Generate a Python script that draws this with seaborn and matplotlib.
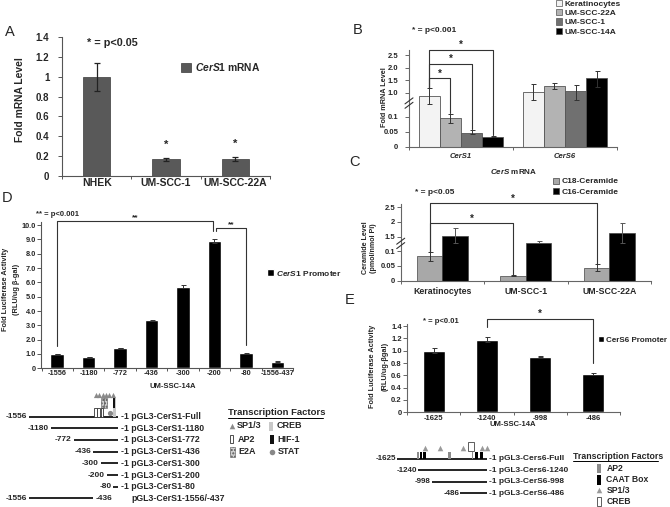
import numpy as np
import pandas as pd
import matplotlib
matplotlib.use('Agg')
import matplotlib.pyplot as plt
import seaborn as sns
from matplotlib.patches import Patch, Rectangle

# ---------------- data ----------------
A_cells = ['NHEK', 'UM-SCC-1', 'UM-SCC-22A']
A_mrna = [1.0, 0.17, 0.17]
A_err = [0.14, 0.015, 0.02]

B_genes = ['CerS1', 'CerS6']
B_cells = ['Keratinocytes', 'UM-SCC-22A', 'UM-SCC-1', 'UM-SCC-14A']
B_cers1 = [0.84, 0.096, 0.048, 0.034]
B_cers6 = [1.02, 1.27, 1.08, 1.57]
B_cers1_lo = [0.38, 0.015, 0.006, 0.002]
B_cers1_hi = [0.33, 0.014, 0.010, 0.002]
B_cers6_lo = [0.37, 0.13, 0.42, 0.33]
B_cers6_hi = [0.31, 0.10, 0.23, 0.31]

C_cells = ['Keratinocytes', 'UM-SCC-1', 'UM-SCC-22A']
C_species = ['C18-Ceramide', 'C16-Ceramide']
C_c18 = [0.083, 0.017, 0.044]
C_c18_err = [0.015, 0.002, 0.013]
C_c16 = [1.52, 1.28, 1.64]
C_c16_err = [0.28, 0.06, 0.34]

D_constructs = ['-1556', '-1180', '-772', '-436', '-300', '-200', '-80', '-1556-437']
D_activity = [1.0, 0.8, 1.45, 3.35, 5.7, 8.9, 1.05, 0.45]
D_err = [0.0, 0.0, 0.0, 0.05, 0.12, 0.15, 0.04, 0.03]

E_constructs = ['-1625', '-1240', '-998', '-486']
E_activity = [1.0, 1.18, 0.9, 0.62]
E_err = [0.04, 0.045, 0.01, 0.02]

# promoter maps (bp)
D_starts = [-1556, -1180, -772, -436, -300, -200, -80]
D_names = ['Full', '1180', '772', '436', '300', '200', '80']
D_del = [-1556, -436]
D_del_name = 'pGL3-CerS1-1556/-437'
D_sp1 = [-386, -328, -268, -211, -153, -93]
D_ap2 = [(-421, -374), (-363, -316), (-304, -258)]
D_e2a = [(-290, -246), (-237, -193)]
D_creb = [(-96, -35)]
D_hif = [(-79, -44)]
D_stat = [-132]

E_starts = [-1625, -1240, -998, -486]
E_names = ['pGL3-Cers6-Full', 'pGL3-Cers6-1240', 'pGL3-CerS6-998', 'pGL3-CerS6-486']
E_ap2 = [(-1267, -1225), (-697, -654), (-276, -247)]
E_caat = [(-1216, -1171), (-1153, -1105), (-216, -171), (-126, -81)]
E_sp1 = [-1117, -847, -427, -95, 5]
E_creb = [(-337, -234)]

# ---------------- style ----------------
sns.set_theme(style='white')
plt.rcParams['font.family'] = ['Liberation Sans', 'DejaVu Sans']
plt.rcParams['font.weight'] = 'bold'
plt.rcParams['mathtext.fontset'] = 'custom'
plt.rcParams['mathtext.it'] = 'Liberation Sans:italic:bold'
plt.rcParams['mathtext.rm'] = 'Liberation Sans:bold'
plt.rcParams['mathtext.bf'] = 'Liberation Sans:bold'

W, H = 670, 507
fig = plt.figure(figsize=(W / 100, H / 100), dpi=100)
fig.patch.set_facecolor('white')


def px_axes(x0, y0, x1, y1, **kw):
    return fig.add_axes([x0 / W, 1 - y1 / H, (x1 - x0) / W, (y1 - y0) / H], **kw)


ov = fig.add_axes([0, 0, 1, 1], zorder=20)
ov.set_xlim(0, W)
ov.set_ylim(H, 0)
ov.axis('off')
ov.patch.set_alpha(0)


def T(x, y, s, size, ha='left', va='center', weight='bold', **kw):
    return ov.text(x, y, s, fontsize=size, ha=ha, va=va, fontweight=weight, **kw)


def style_ax(ax, color, ysize, xsize, ypad, xpad, n, ylen=2.5):
    for s in ['top', 'right']:
        ax.spines[s].set_visible(False)
    for s in ['left', 'bottom']:
        ax.spines[s].set_color(color)
        ax.spines[s].set_linewidth(0.8)
    ax.tick_params(axis='y', which='major', left=True, direction='out', length=ylen,
                   width=0.7, color=color, pad=ypad, labelsize=ysize)
    ax.tick_params(axis='x', which='major', bottom=True, length=0, pad=xpad, labelsize=xsize)
    ax.set_xticks(np.arange(n + 1) - 0.5, minor=True)
    ax.tick_params(axis='x', which='minor', bottom=True, direction='out', length=2.5,
                   width=0.7, color=color)
    ax.set_xlabel('')
    ax.set_ylabel('')
    ax.grid(False)
    ax.set_facecolor('none')


def centers(ax):
    return [[b.get_x() + b.get_width() / 2 for b in c] for c in ax.containers]


def bracket(ax, x1, x2, top, f1, f2, star, size, color='#333', lw=0.8):
    ax.plot([x1, x1, x2, x2], [f1, top, top, f2], color=color, lw=lw, clip_on=False, zorder=6)
    ax.text((x1 + x2) / 2, top, star, ha='center', va='bottom', fontsize=size,
            fontweight='bold', clip_on=False)


def break_marks(ax, v):
    x0 = ax.get_xlim()[0]
    xo, yo = ov.transData.inverted().transform(ax.transData.transform((x0, v)))
    for dy in (-2.2, 2.2):
        ov.plot([xo - 4, xo + 4], [yo + dy + 3, yo + dy - 3], color='#333', lw=0.8)


# ================= Panel A =================
axA = px_axes(62, 37, 270, 176)
sns.barplot(x=A_cells, y=A_mrna, color='#595959', saturation=1, width=0.39,
            errorbar=None, edgecolor='#3a3a3a', linewidth=0.5, ax=axA)
xa = centers(axA)[0]
axA.errorbar(xa, A_mrna, yerr=A_err, fmt='none', ecolor='#222', elinewidth=0.9,
             capsize=2.5, capthick=0.9, zorder=5)
axA.set_xlim(-0.5, 2.5)
axA.set_ylim(0, 1.4)
axA.set_yticks(np.arange(0, 1.41, 0.2))
axA.set_yticklabels(['0', '0.2', '0.4', '0.6', '0.8', '1', '1.2', '1.4'])
style_ax(axA, '#555', 7, 7.5, 6, 1.8, 3, ylen=3)
for i in (1, 2):
    axA.text(xa[i], A_mrna[i] + A_err[i] + 0.08, '*', ha='center', va='bottom',
             fontsize=8, fontweight='bold')
axA.legend(handles=[Patch(facecolor='#595959', edgecolor='#3a3a3a', lw=0.5)],
           labels=[r'$\it{CerS1}$ mRNA'], loc='upper left',
           bbox_to_anchor=(181 / W, 1 - 61 / H), bbox_transform=fig.transFigure,
           frameon=False, fontsize=7.4, handlelength=1.0, handleheight=0.9,
           handletextpad=0.4, borderpad=0, borderaxespad=0)
T(87, 43, '* = p<0.05', 7.8)
T(20, 100, 'Fold mRNA Level', 7.4, ha='center', rotation=90)
T(10, 32, 'A', 10.5, ha='center', weight='normal')

# ================= Panel B =================
kvB = [-10, 0, 0.12, 1.0, 10]
kpB = [-3000, 0, 36, 54.3, 54.3 + 9 * 25.1]


def fB(v):
    return np.interp(v, kvB, kpB)


def iB(p):
    return np.interp(p, kpB, kvB)


B_colors = ['#f3f3f3', '#b3b3b3', '#707070', '#000000']
dfB = pd.DataFrame({'gene': np.repeat(B_genes, len(B_cells)),
                    'cell': B_cells * len(B_genes),
                    'value': B_cers1 + B_cers6})
axB = px_axes(409, 50, 617, 147)
sns.barplot(data=dfB, x='gene', y='value', hue='cell', hue_order=B_cells,
            palette=B_colors, saturation=1, width=0.81, errorbar=None,
            edgecolor='#555', linewidth=0.6, legend=False, ax=axB)
cB = centers(axB)
axB.set_yscale('function', functions=(fB, iB))
axB.set_xlim(-0.5, 1.5)
axB.set_ylim(0, 2.7)
for j in range(len(B_cells)):
    axB.errorbar([cB[j][0], cB[j][1]], [B_cers1[j], B_cers6[j]],
                 yerr=[[B_cers1_lo[j], B_cers6_lo[j]], [B_cers1_hi[j], B_cers6_hi[j]]],
                 fmt='none', ecolor='#333', elinewidth=0.7, capsize=1.8, capthick=0.7, zorder=5)
axB.set_yticks([0, 0.05, 0.1, 1.0, 1.5, 2.0, 2.5])
axB.set_yticklabels(['0', '0.05', '0.1', '1.0', '1.5', '2.0', '2.5'])
axB.set_xticks([0, 1])
axB.set_xticklabels(B_genes, fontstyle='italic')
style_ax(axB, '#666', 5.5, 5.5, 5.0, 4.5, 2, ylen=2.7)
axB.set_yticks([], minor=True)
leftB = cB[0][0]
footL = iB(fB(B_cers1[0] + B_cers1_hi[0]))
for j, top in zip((1, 2, 3), (1.57, 2.15, 2.70)):
    bracket(axB, leftB, cB[j][0], top, footL, iB(fB(B_cers1[j] + B_cers1_hi[j]) + 1.0),
            '*', 7)
break_marks(axB, 0.5)
axB.legend(handles=[Patch(facecolor=c, edgecolor='#555', lw=0.5) for c in B_colors],
           labels=B_cells, loc='upper left',
           bbox_to_anchor=(556 / W, 1 - 0 / H), bbox_transform=fig.transFigure,
           frameon=False, fontsize=6, handlelength=0.75, handleheight=0.75,
           handletextpad=0.3, labelspacing=0.15, borderpad=0, borderaxespad=0)
T(412, 30.5, '* = p<0.001', 6)
T(384, 97, 'Fold mRNA Level', 5.2, ha='center', rotation=90)
T(514, 172, r'$\it{CerS}$ mRNA', 5.8, ha='center')
T(358, 30, 'B', 10.5, ha='center', weight='normal')

# ================= Panel C =================
kvC = [-10, 0, 0.125, 1.27, 10]
kpC = [-2970, 0, 37.1, 37.3, 37.3 + 8.73 * 29.4]


def fC(v):
    return np.interp(v, kvC, kpC)


def iC(p):
    return np.interp(p, kpC, kvC)


C_colors = ['#a8a8a8', '#000000']
dfC = pd.DataFrame({'cell': C_cells * 2,
                    'species': np.repeat(C_species, len(C_cells)),
                    'value': C_c18 + C_c16})
axC = px_axes(400.7, 204.3, 651, 280.7)
sns.barplot(data=dfC, x='cell', y='value', hue='species', hue_order=C_species,
            palette=C_colors, saturation=1, width=0.61, errorbar=None,
            edgecolor='#444', linewidth=0.5, legend=False, ax=axC)
cC = centers(axC)
axC.set_yscale('function', functions=(fC, iC))
axC.set_xlim(-0.5, 2.5)
axC.set_ylim(0, 2.6)
axC.errorbar(cC[0], C_c18, yerr=C_c18_err, fmt='none', ecolor='#333', elinewidth=0.7,
             capsize=1.8, capthick=0.7, zorder=5)
axC.errorbar(cC[1], C_c16, yerr=C_c16_err, fmt='none', ecolor='#555', elinewidth=0.7,
             capsize=1.8, capthick=0.7, zorder=5)
axC.set_yticks([0, 0.05, 0.1, 1.5, 2.0, 2.5])
axC.set_yticklabels(['0', '0.05', '0.1', '1.5', '2', '2.5'])
axC.set_xticks([0, 1, 2])
axC.set_xticklabels(C_cells)
style_ax(axC, '#666', 5.5, 6.3, 1.0, 4.2, 3, ylen=3)
axC.set_yticks([], minor=True)
footC = C_c18[0] + C_c18_err[0]
bracket(axC, cC[0][0], cC[0][1], 1.95, footC, C_c18[1] + C_c18_err[1], '*', 7)
bracket(axC, cC[0][0], cC[0][2], 2.63, footC, C_c18[2] + C_c18_err[2], '*', 7)
break_marks(axC, 1.2)
axC.legend(handles=[Patch(facecolor=c, edgecolor='#444', lw=0.5) for c in C_colors],
           labels=C_species, loc='upper left',
           bbox_to_anchor=(553 / W, 1 - 177.5 / H), bbox_transform=fig.transFigure,
           frameon=False, fontsize=6, handlelength=0.75, handleheight=0.75,
           handletextpad=0.3, labelspacing=0.3, borderpad=0, borderaxespad=0)
T(415, 192, '* = p<0.05', 6)
T(365.5, 248, 'Ceramide Level', 5.1, ha='center', rotation=90)
T(373.5, 248, '(pmol/nmol Pi)', 5.1, ha='center', rotation=90)
T(354, 162, 'C', 10.5, ha='center', weight='normal')

# ================= Panel D =================
axD = px_axes(40.7, 222.3, 293, 368.3)
sns.barplot(x=D_constructs, y=D_activity, color='black', saturation=1, width=0.43,
            errorbar=None, ax=axD)
xd = centers(axD)[0]
axD.errorbar(xd, D_activity, yerr=D_err, fmt='none', ecolor='#333', elinewidth=0.7,
             capsize=1.8, capthick=0.7, zorder=5)
axD.set_xlim(-0.526, 7.28)
axD.set_ylim(0, 10.2)
axD.set_yticks(np.arange(0, 11, 1))
axD.set_yticklabels(['0'] + ['%.1f' % v for v in range(1, 11)])
style_ax(axD, '#555', 5.3, 5.3, 0.6, 1.0, 8, ylen=3)
g = 0.56
top5 = D_activity[5] + D_err[5] + g
bracket(axD, xd[0], xd[5] - 0.04, 10.28, D_activity[0] + g, top5, '**', 6)
bracket(axD, xd[5] + 0.04, xd[6], 9.81, top5, D_activity[6] + D_err[6] + g, '**', 6)
axD.legend(handles=[Patch(facecolor='black')], labels=[r'$\it{CerS1}$ Promoter'],
           loc='center left', bbox_to_anchor=(267 / W, 1 - 273 / H),
           bbox_transform=fig.transFigure, frameon=False, fontsize=6,
           handlelength=0.8, handleheight=0.8, handletextpad=0.25,
           borderpad=0, borderaxespad=0)
T(36, 214, '** = p<0.001', 5.5)
T(6, 289, 'Fold Luciferase Activity', 5.3, ha='center', rotation=90)
T(16, 289, '(RLU/ug \u03b2-gal)', 5.3, ha='center', rotation=90)
T(173, 387, 'UM-SSC-14A', 5.5, ha='center')
T(7, 198, 'D', 10.5, ha='center', weight='normal')

# ================= Panel E =================
axE = px_axes(407, 323.6, 620, 412.3)
sns.barplot(x=E_constructs, y=E_activity, color='black', saturation=1, width=0.41,
            errorbar=None, ax=axE)
xe = centers(axE)[0]
axE.errorbar(xe, E_activity, yerr=E_err, fmt='none', ecolor='#333', elinewidth=0.7,
             capsize=1.8, capthick=0.7, zorder=5)
axE.set_xlim(-0.276, 3.397)
axE.set_ylim(0, 1.44)
axE.set_yticks(np.arange(0, 1.41, 0.2))
axE.set_yticklabels(['0'] + ['%.1f' % v for v in np.arange(0.2, 1.41, 0.2)])
style_ax(axE, '#666', 5.5, 5.5, 0.8, 1.8, 4, ylen=3)
gE = 0.16
bracket(axE, xe[1], xe[3], 1.51, E_activity[1] + E_err[1] + gE,
        E_activity[3] + E_err[3] + gE, '*', 7)
axE.legend(handles=[Patch(facecolor='black')], labels=['CerS6 Promoter'],
           loc='center left', bbox_to_anchor=(598 / W, 1 - 340 / H),
           bbox_transform=fig.transFigure, frameon=False, fontsize=5.8,
           handlelength=0.8, handleheight=0.8, handletextpad=0.25,
           borderpad=0, borderaxespad=0)
T(423, 321.7, '* = p<0.01', 5.5)
T(373, 366, 'Fold Luciferase Activity', 5.3, ha='center', rotation=90)
T(385, 366, '(RLU/ug-\u03b2gal)', 5.3, ha='center', rotation=90)
T(513, 424, 'UM-SSC-14A', 5.5, ha='center')
T(350, 300, 'E', 10.5, ha='center', weight='normal')

# ================= Promoter map D =================
sD = 0.057
dD = px_axes(0, 385, 340, 507)
dD.set_xlim(-118 / sD, (340 - 118) / sD)
dD.set_ylim((507 - 416.5) / 11.71, (385 - 416.5) / 11.71)
dD.axis('off')
for i, (st, nm) in enumerate(zip(D_starts, D_names)):
    dD.plot([st, -1], [i, i], color='black', lw=1.2, solid_capstyle='butt')
    dD.annotate(str(st), (st, i), xytext=(-1.5, 0), textcoords='offset points',
                ha='right', va='center', fontsize=6, fontweight='bold')
    dD.annotate('-1 pGL3-CerS1-' + nm, (-1, i), xytext=(2.3, 0), textcoords='offset points',
                ha='left', va='center', fontsize=6.3, fontweight='bold')
r = len(D_starts)
dD.plot(D_del, [r, r], color='black', lw=1.2, solid_capstyle='butt')
dD.annotate(str(D_del[0]), (D_del[0], r), xytext=(-1.5, 0), textcoords='offset points',
            ha='right', va='center', fontsize=6, fontweight='bold')
dD.annotate(str(D_del[1]), (D_del[1], r), xytext=(1.5, 0), textcoords='offset points',
            ha='left', va='center', fontsize=6, fontweight='bold')
dD.annotate(D_del_name, (-1, r), xytext=(9.8, 0), textcoords='offset points',
            ha='left', va='center', fontsize=6.3, fontweight='bold')
for a, b in D_creb:
    dD.add_patch(Rectangle((a, -1.58), b - a, 1.58, facecolor='#c8c8c8', edgecolor='none', zorder=3))
for a, b in D_hif:
    dD.add_patch(Rectangle((a, -1.58), b - a, 0.85, facecolor='#111', edgecolor='none', zorder=4))
for a, b in D_e2a:
    dD.add_patch(Rectangle((a, -1.58), b - a, 0.85, facecolor='#d0d0d0', edgecolor='#555',
                           hatch='.....', lw=0.4, zorder=3))
for a, b in D_ap2:
    dD.add_patch(Rectangle((a, -0.73), b - a, 0.73, facecolor='white', edgecolor='#333',
                           lw=0.6, zorder=4))
dD.scatter(D_stat, [-0.3] * len(D_stat), s=14, color='#888', zorder=5, linewidths=0)
dD.scatter(D_sp1, [-1.8] * len(D_sp1), s=14, marker='^', color='#8a8a8a', zorder=5,
           linewidths=0)

# TF legend D
T(228, 412.7, 'Transcription Factors', 6.8)
ov.plot([228, 323], [417.5, 417.5], color='black', lw=0.7)
ov.scatter([232.3], [426], marker='^', s=16, color='#8a8a8a', linewidths=0)
T(236.5, 426, 'SP1/3', 6.5)
ov.add_patch(Rectangle((269.3, 421.7), 4, 9, facecolor='#c8c8c8', edgecolor='none'))
T(276.7, 426, 'CREB', 6.5)
ov.add_patch(Rectangle((230, 435), 3.3, 8.3, facecolor='white', edgecolor='#333', lw=0.6))
T(237.5, 439, 'AP2', 6.5)
ov.add_patch(Rectangle((270, 435), 4, 9, facecolor='#111', edgecolor='none'))
T(277.7, 439, 'HIF-1', 6.5)
ov.add_patch(Rectangle((230, 447.3), 5, 10, facecolor='#d0d0d0', edgecolor='#555',
                       hatch='.....', lw=0.4))
T(238.3, 452, 'E2A', 6.5)
ov.scatter([271.7], [451.7], s=16, color='#888', linewidths=0)
T(277.7, 452, 'STAT', 6.5)

# ================= Promoter map E =================
sE = 0.0555
dE = px_axes(340, 440, 670, 507)
dE.set_xlim((340 - 487) / sE, (670 - 487) / sE)
dE.set_ylim((507 - 459) / 11.4, (440 - 459) / 11.4)
dE.axis('off')
for i, (st, nm) in enumerate(zip(E_starts, E_names)):
    dE.plot([st, -1], [i, i], color='black', lw=1.2, solid_capstyle='butt')
    dE.annotate(str(st), (st, i), xytext=(-0.5, 0), textcoords='offset points',
                ha='right', va='center', fontsize=5.8, fontweight='bold')
    dE.annotate('-1 ' + nm, (-1, i), xytext=(1.5, 0), textcoords='offset points',
                ha='left', va='center', fontsize=6, fontweight='bold')
for a, b in E_ap2:
    dE.add_patch(Rectangle((a, -0.64), b - a, 0.64, facecolor='#8c8c8c', edgecolor='none', zorder=3))
for a, b in E_caat:
    dE.add_patch(Rectangle((a, -0.64), b - a, 0.64, facecolor='#000', edgecolor='none', zorder=3))
for a, b in E_creb:
    dE.add_patch(Rectangle((a, -1.52), b - a, 0.82, facecolor='white', edgecolor='#444',
                           lw=0.6, zorder=4))
dE.scatter(E_sp1, [-0.93] * len(E_sp1), s=16, marker='^', color='#9a9a9a', zorder=5,
           linewidths=0)

T(573, 456.7, 'Transcription Factors', 6.3)
ov.plot([573, 658], [461, 461], color='black', lw=0.7)
ov.add_patch(Rectangle((596.7, 463.5), 4.5, 9.5, facecolor='#8c8c8c', edgecolor='none'))
T(606.5, 468.3, 'AP2', 6.2)
ov.add_patch(Rectangle((596.7, 475.3), 4.5, 9.5, facecolor='#000', edgecolor='none'))
T(606.5, 480, 'CAAT Box', 6.2)
ov.scatter([599.3], [490], marker='^', s=16, color='#9a9a9a', linewidths=0)
T(606.5, 490.5, 'SP1/3', 6.2)
ov.add_patch(Rectangle((596.7, 496.7), 4.5, 9.5, facecolor='white', edgecolor='#444', lw=0.6))
T(606.5, 501.5, 'CREB', 6.2)

fig.savefig('out.png', dpi=100, facecolor='white')
